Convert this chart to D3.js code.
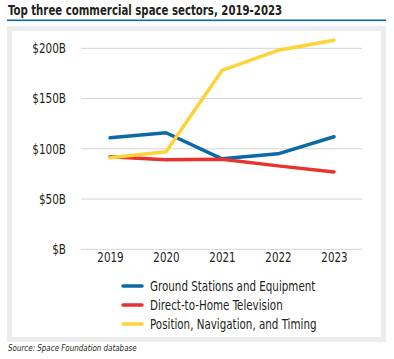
<!DOCTYPE html>
<html>
<head>
<meta charset="utf-8">
<script src="https://cdn.jsdelivr.net/npm/d3@7"></script>
<style>
  body { margin: 0; background: #fff; }
  svg text { font-family: "DejaVu Sans Condensed", "Liberation Sans Narrow", sans-serif; fill: #231f20; }
</style>
</head>
<body>
<svg id="chart" width="394" height="359"></svg>
<script>
var years = ['2019', '2020', '2021', '2022', '2023'];
var groundStations = [111, 116, 90, 95, 112];
var directToHome = [92, 89, 89.5, 83, 77];
var pnt = [91, 97, 178, 198, 208];
var yTicks = [0, 50, 100, 150, 200];

var series = [
  { name: 'Ground Stations and Equipment', values: groundStations, color: '#0b6aa6' },
  { name: 'Direct-to-Home Television', values: directToHome, color: '#e8322e' },
  { name: 'Position, Navigation, and Timing', values: pnt, color: '#fed33a' }
];

// the original font is narrower than anything installed, so squeeze the glyphs a bit
function squeeze(sel, k) {
  sel.each(function () {
    var w = this.getComputedTextLength();
    d3.select(this).attr('textLength', w * k).attr('lengthAdjust', 'spacingAndGlyphs');
  });
}

var svg = d3.select('#chart');

// title + rule
svg.append('text')
  .attr('x', 8).attr('y', 15)
  .attr('font-size', 14.5).attr('font-weight', 'bold')
  .text('Top three commercial space sectors, 2019-2023')
  .call(squeeze, 0.78);
svg.append('rect').attr('x', 7).attr('y', 19.5).attr('width', 379).attr('height', 1.6).attr('fill', '#0b6aa6');

// panel
svg.append('rect').attr('x', 7).attr('y', 26).attr('width', 379).attr('height', 316).attr('fill', '#ededed');
svg.append('rect').attr('x', 12).attr('y', 31).attr('width', 369).attr('height', 306).attr('fill', '#fff');

var x = d3.scalePoint().domain(years).range([110, 334]);
var y = d3.scaleLinear().domain([0, 200]).range([249.3, 48.3]);

// grid
svg.append('g').selectAll('line').data(yTicks).enter().append('line')
  .attr('x1', 81).attr('x2', 362)
  .attr('y1', function (d) { return y(d); })
  .attr('y2', function (d) { return y(d); })
  .attr('stroke', '#d4d4d4').attr('stroke-width', 1);

var yAxis = svg.append('g').attr('transform', 'translate(66,0)')
  .call(d3.axisLeft(y).tickValues(yTicks).tickSize(0).tickPadding(0)
    .tickFormat(function (d) { return '$' + (d === 0 ? '' : d) + 'B'; }));
yAxis.select('.domain').remove();
yAxis.selectAll('text').attr('font-size', 13.5).attr('font-family', null).attr('fill', '#231f20')
  .call(squeeze, 0.86);

var xAxis = svg.append('g').attr('transform', 'translate(0,252)')
  .call(d3.axisBottom(x).tickSize(0).tickPadding(0));
xAxis.select('.domain').remove();
xAxis.selectAll('text').attr('font-size', 13.5).attr('font-family', null).attr('fill', '#231f20')
  .call(squeeze, 0.85);

var line = d3.line()
  .x(function (d, i) { return x(years[i]); })
  .y(function (d) { return y(d); });

svg.append('g').selectAll('path').data(series).enter().append('path')
  .attr('d', function (s) { return line(s.values); })
  .attr('fill', 'none')
  .attr('stroke', function (s) { return s.color; })
  .attr('stroke-width', 3.5)
  .attr('stroke-linecap', 'round')
  .attr('stroke-linejoin', 'round');

// legend
var legend = svg.append('g').selectAll('g').data(series).enter().append('g')
  .attr('transform', function (d, i) { return 'translate(122,' + (286 + i * 19) + ')'; });
legend.append('line')
  .attr('x1', 1).attr('x2', 20)
  .attr('stroke', function (d) { return d.color; })
  .attr('stroke-width', 3.5).attr('stroke-linecap', 'round');
legend.append('text')
  .attr('x', 28).attr('dy', '0.35em')
  .attr('font-size', 13.5)
  .text(function (d) { return d.name; })
  .call(squeeze, 0.85);

svg.append('text')
  .attr('x', 8).attr('y', 351)
  .attr('font-size', 9).attr('font-style', 'italic')
  .text('Source: Space Foundation database')
  .call(squeeze, 0.88);
</script>
</body>
</html>
